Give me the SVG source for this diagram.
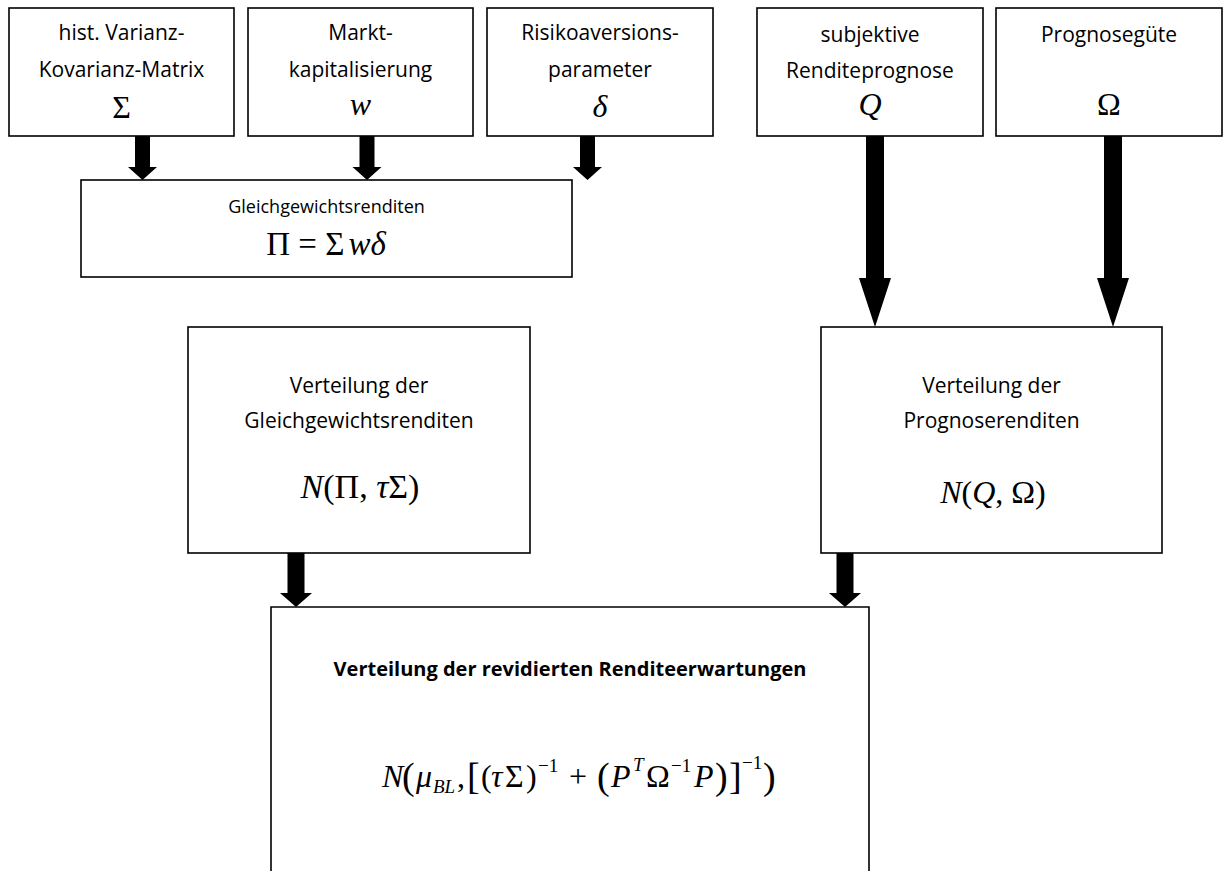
<svg xmlns="http://www.w3.org/2000/svg" width="1224" height="871" viewBox="0 0 1224 871">
<style>
.box{fill:#fff;stroke:#000;stroke-width:1.6}
.t{font-family:"Open Sans","Liberation Sans",sans-serif;font-size:21px;fill:#000;text-anchor:middle}
.t2{font-family:"Open Sans","Liberation Sans",sans-serif;font-size:21px;fill:#000;text-anchor:middle}
.tb{font-family:"Open Sans","Liberation Sans",sans-serif;font-size:20px;font-weight:bold;fill:#000;text-anchor:middle}
.m{font-family:"Liberation Serif","Times New Roman",serif;font-size:32px;fill:#000}
.mc{font-family:"Liberation Serif","Times New Roman",serif;font-size:32px;fill:#000;text-anchor:middle}
.i{font-style:italic}
.arr{fill:#000}
</style>
<rect width="1224" height="871" fill="#fff"/>

<g id="n1">
<rect class="box" x="9" y="8" width="225" height="128"/>
<text class="t" x="121.5" y="40">hist. Varianz-</text>
<text class="t" x="121.5" y="77">Kovarianz-Matrix</text>
<text class="mc" x="121.5" y="118">Σ</text>
</g>
<g id="n2">
<rect class="box" x="248" y="8" width="225" height="128"/>
<text class="t" x="360.5" y="40">Markt-</text>
<text class="t" x="360.5" y="77">kapitalisierung</text>
<text class="mc i" x="360.5" y="115">w</text>
</g>
<g id="n3">
<rect class="box" x="487" y="8" width="226" height="128"/>
<text class="t" x="600" y="40">Risikoaversions-</text>
<text class="t" x="600" y="77">parameter</text>
<text class="mc i" x="600" y="117">δ</text>
</g>
<g id="n4">
<rect class="box" x="757" y="8" width="226" height="128"/>
<text class="t" x="870" y="42">subjektive</text>
<text class="t" x="870" y="78">Renditeprognose</text>
<text class="mc i" x="870" y="115">Q</text>
</g>
<g id="n5">
<rect class="box" x="996" y="8" width="226" height="128"/>
<text class="t" x="1109" y="42">Prognosegüte</text>
<text class="mc" x="1109" y="115">Ω</text>
</g>

<g id="n6">
<rect class="box" x="81" y="180" width="491" height="97"/>
<text class="t" x="326.5" y="213" style="font-size:18px">Gleichgewichtsrenditen</text>
<text class="mc" x="326" y="255" style="font-size:33px">Π = Σ<tspan class="i" dx="4">wδ</tspan></text>
</g>

<g id="n7">
<rect class="box" x="188" y="327" width="342" height="226"/>
<text class="t2" x="359" y="393">Verteilung der</text>
<text class="t2" x="359" y="428">Gleichgewichtsrenditen</text>
<text class="mc" x="360" y="498" style="font-size:34px"><tspan class="i">N</tspan>(Π, <tspan class="i">τ</tspan>Σ)</text>
</g>

<g id="n8">
<rect class="box" x="821" y="327" width="341" height="226"/>
<text class="t2" x="991.5" y="393">Verteilung der</text>
<text class="t2" x="991.5" y="428">Prognoserenditen</text>
<text class="mc" x="993" y="503"><tspan class="i">N</tspan>(<tspan class="i">Q</tspan>, Ω)</text>
</g>

<g id="n9">
<path class="box" d="M271,880 V607 H869 V880"/>
<text class="tb" x="570" y="676">Verteilung der revidierten Renditeerwartungen</text>
<text class="m"><tspan class="i" x="382" y="787">N</tspan><tspan x="402" y="789" style="font-size:38px">(</tspan><tspan class="i" x="416" y="787">μ</tspan><tspan class="i" x="433" y="793" style="font-size:19px">BL</tspan><tspan x="457" y="787">,</tspan><tspan x="467" y="789" style="font-size:38px">[</tspan><tspan x="481" y="787">(</tspan><tspan class="i" x="491" y="787">τ</tspan><tspan x="505" y="787">Σ</tspan><tspan x="526" y="787">)</tspan><tspan x="538" y="772" style="font-size:19px">−1</tspan><tspan x="569" y="787">+</tspan><tspan x="597" y="789" style="font-size:38px">(</tspan><tspan class="i" x="611" y="787">P</tspan><tspan class="i" x="633" y="771" style="font-size:19px">T</tspan><tspan x="646" y="787">Ω</tspan><tspan x="671" y="772" style="font-size:19px">−1</tspan><tspan class="i" x="694" y="787">P</tspan><tspan x="715" y="789" style="font-size:38px">)</tspan><tspan x="729" y="789" style="font-size:38px">]</tspan><tspan x="742" y="769" style="font-size:19px">−1</tspan><tspan x="763" y="789" style="font-size:38px">)</tspan></text>
</g>

<g id="connectors">
<polygon class="arr" points="135,136 150,136 150,167 157,167 142.5,180 128,167 135,167"/>
<polygon class="arr" points="359.5,136 374.5,136 374.5,167 381.5,167 367,180 352.5,167 359.5,167"/>
<polygon class="arr" points="580,136 595,136 595,167 602,167 587.5,180 573,167 580,167"/>
<polygon class="arr" points="866,136 884,136 884,278 891,278 875,327 859,278 866,278"/>
<polygon class="arr" points="1104,136 1122,136 1122,278 1129,278 1113,327 1097,278 1104,278"/>
<polygon class="arr" points="287.5,553 304.5,553 304.5,593 312,593 296,607 280,593 287.5,593"/>
<polygon class="arr" points="836.5,553 853.5,553 853.5,593 861,593 845,607 829,593 836.5,593"/>
</g>
</svg>
